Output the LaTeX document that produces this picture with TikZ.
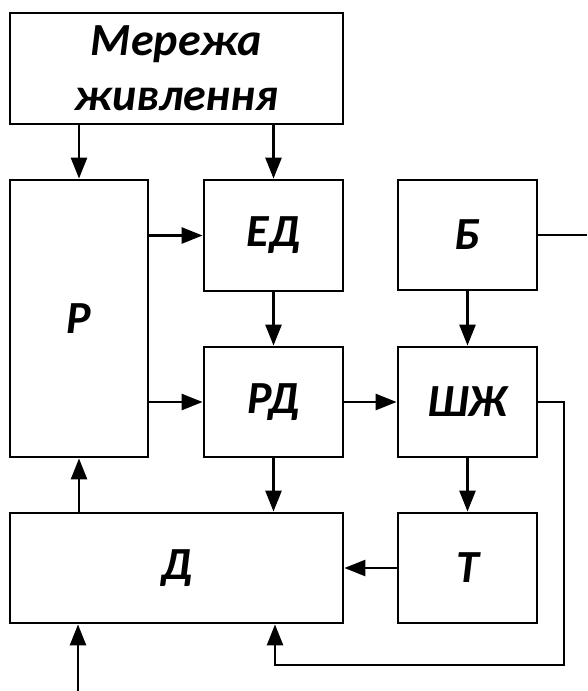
\documentclass[tikz,border=0pt]{standalone}
\usepackage{fontspec}
\setmainfont{Carlito}
\usetikzlibrary{arrows.meta}
\begin{document}
\begin{tikzpicture}[x=1pt,y=-1pt,
  box/.style={draw=black, line width=2.8pt, fill=white, inner sep=0pt,
    font=\fontsize{46}{55}\selectfont\bfseries\itshape, align=center},
  arr/.style={line width=2.6pt, -{Triangle[length=21pt,width=16pt]}},
  ln/.style={line width=2.6pt}]
\useasboundingbox (0,0) rectangle (587,691);
\node[box, minimum width=333pt, minimum height=111pt] (net) at (176.5,68.5) {Мережа\\живлення};
\node[box, minimum width=138pt, minimum height=277pt] (R) at (79,318.5) {Р};
\node[box, minimum width=139pt, minimum height=111pt] (ED) at (273.5,235.5) {ЕД};
\node[box, minimum width=139pt, minimum height=110pt] (B) at (467.5,235) {Б};
\node[box, minimum width=139pt, minimum height=110pt] (RD) at (273.5,402) {РД};
\node[box, minimum width=139pt, minimum height=110pt] (SZ) at (467.5,402) {ШЖ};
\node[box, minimum width=333pt, minimum height=110pt] (D) at (176.5,568) {Д};
\node[box, minimum width=139pt, minimum height=110pt] (T) at (467.5,568) {Т};
\coordinate (bout) at (587,235);
\coordinate (fbc) at (564,665);
\coordinate (fbe) at (275,665);
\coordinate (inp) at (78,691);
\draw[arr] (R.north |- net.south) -- (R.north);
\draw[arr] (ED.north |- net.south) -- (ED.north);
\draw[arr] (R.east |- ED.west) -- (ED.west);
\draw[arr] (R.east |- RD.west) -- (RD.west);
\draw[arr] (ED.south) -- (RD.north);
\draw[arr] (RD.east) -- (SZ.west);
\draw[arr] (B.south) -- (SZ.north);
\draw[arr] (SZ.south) -- (T.north);
\draw[arr] (T.west) -- (T.west -| D.east);
\draw[arr] (RD.south) -- (RD.south |- D.north);
\draw[arr] (R.south |- D.north) -- (R.south);
\draw[ln] (B.east) -- (bout);
\draw[arr] (SZ.east) -| (fbc) -- (fbe) -- (fbe |- D.south);
\draw[arr] (inp) -- (inp |- D.south);
\end{tikzpicture}
\end{document}
